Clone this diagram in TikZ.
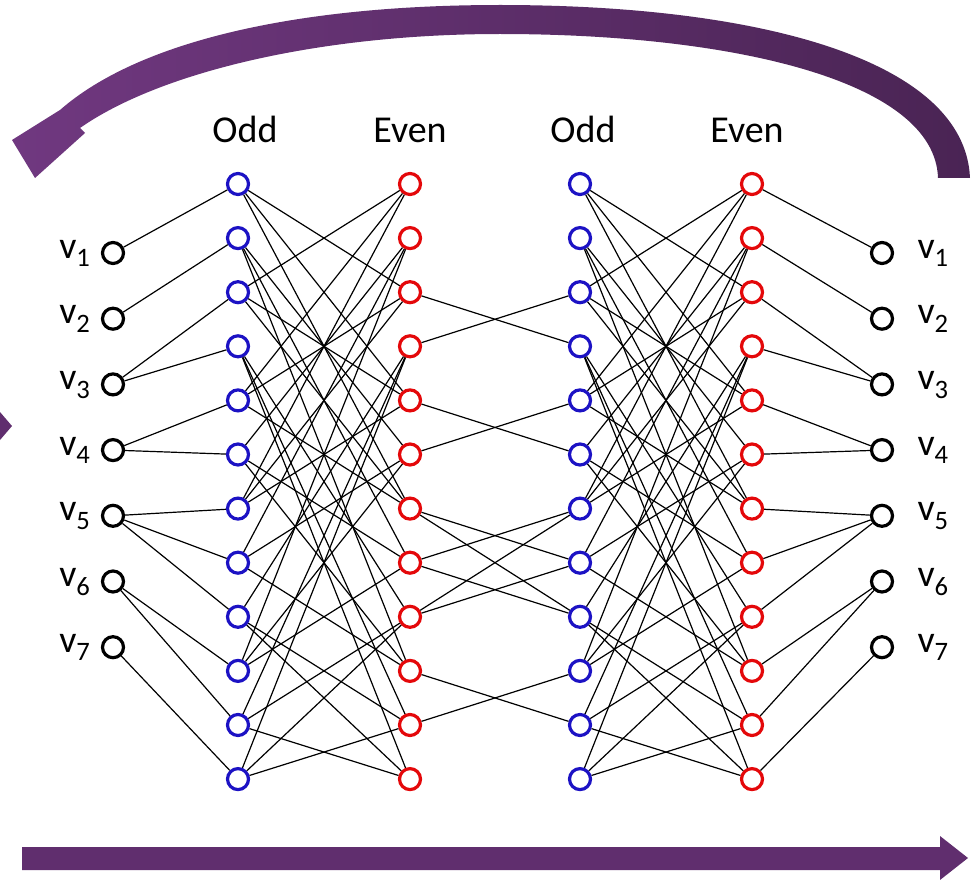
\documentclass[tikz,border=0pt]{standalone}
\usepackage{fontspec}
\setmainfont{Carlito}
\usetikzlibrary{arrows.meta}
\definecolor{oddblue}{RGB}{28,18,196}
\definecolor{evenred}{RGB}{228,8,10}
\definecolor{arrowpurple}{RGB}{96,46,110}
\definecolor{arcleft}{RGB}{112,56,128}
\definecolor{arcright}{RGB}{74,36,84}

\begin{document}
\begin{tikzpicture}[x=1pt,y=-1pt,
  vert/.style={circle,draw=black,line width=3.2pt,minimum size=21pt,inner sep=0pt},
  oddn/.style={circle,draw=oddblue,line width=3.2pt,minimum size=21pt,inner sep=0pt},
  evenn/.style={circle,draw=evenred,line width=3.2pt,minimum size=21pt,inner sep=0pt},
  link/.style={line width=1.2pt},
  lbl/.style={font=\fontsize{38}{40}\selectfont},
  head/.style={font=\fontsize{38}{40}\selectfont,anchor=base},
  ]
\useasboundingbox (0,0) rectangle (975,880);

% column headings
\node[head] (h1) at (245,143) {Odd};
\node[head] (h2) at (410,143) {Even};
\node[head] (h3) at (583,143) {Odd};
\node[head] (h4) at (747,143) {Even};

% the four columns of twelve nodes
\foreach \k in {1,...,12} {
  \pgfmathsetmacro\yy{184+54.1*(\k-1)}
  \node[oddn]  (a\k) at (238,\yy) {};
  \node[evenn] (b\k) at (410,\yy) {};
  \node[oddn]  (c\k) at (580,\yy) {};
  \node[evenn] (d\k) at (752,\yy) {};
}

% the seven vertices on each side
\foreach \k in {1,...,7} {
  \pgfmathsetmacro\yy{253+65.7*(\k-1)}
  \node[vert] (l\k) at (113,\yy) {};
  \node[vert] (r\k) at (882,\yy) {};
  \node[lbl,anchor=base east] (ll\k) at (94,\yy+5) {v\textsubscript{\k}};
  \node[lbl,anchor=base west] (rl\k) at (914,\yy+5) {v\textsubscript{\k}};
}

% vertices to their copies
\foreach \v/\o in {1/1,2/2,3/3,3/4,4/5,4/6,5/7,5/8,5/9,6/10,6/11,7/12} {
  \draw[link] (l\v) -- (a\o);
  \draw[link] (r\v) -- (d\o);
}

% odd to even: every copy to the other copies of its group
\foreach \g in {{1,3,5,7},{2,6,8,10},{4,9,11,12}} {
  \foreach \o in \g {
    \foreach \e in \g {
      \ifnum\o=\e\else
        \draw[link] (a\o) -- (b\e);
        \draw[link] (c\o) -- (d\e);
      \fi
    }
  }
}

% even to odd in the middle
\foreach \e/\o in {3/4,4/3,5/6,6/5,7/8,7/9,8/7,8/9,9/7,9/8,10/11,11/10} {
  \draw[link] (b\e) -- (c\o);
}

% bottom arrow
\fill[arrowpurple] (22,847) -- (940,847) -- (940,836) -- (968,858) -- (940,880)
  -- (940,870) -- (22,870) -- cycle;

% curved return arrow on top
\shade[left color=arcleft,right color=arcright]
  (970,178) .. controls (965,60) and (760,5) .. (500,5)
  .. controls (300,5) and (140,40) .. (60,110)
  -- (12,140) -- (35,178) -- (85,133) -- (80,128)
  .. controls (160,72) and (320,34) .. (500,34)
  .. controls (730,34) and (935,80) .. (938,178) -- cycle;

% piece of an arrow at the left edge
\fill[arrowpurple] (0,412) -- (12,426) -- (0,440) -- cycle;
\end{tikzpicture}
\end{document}
